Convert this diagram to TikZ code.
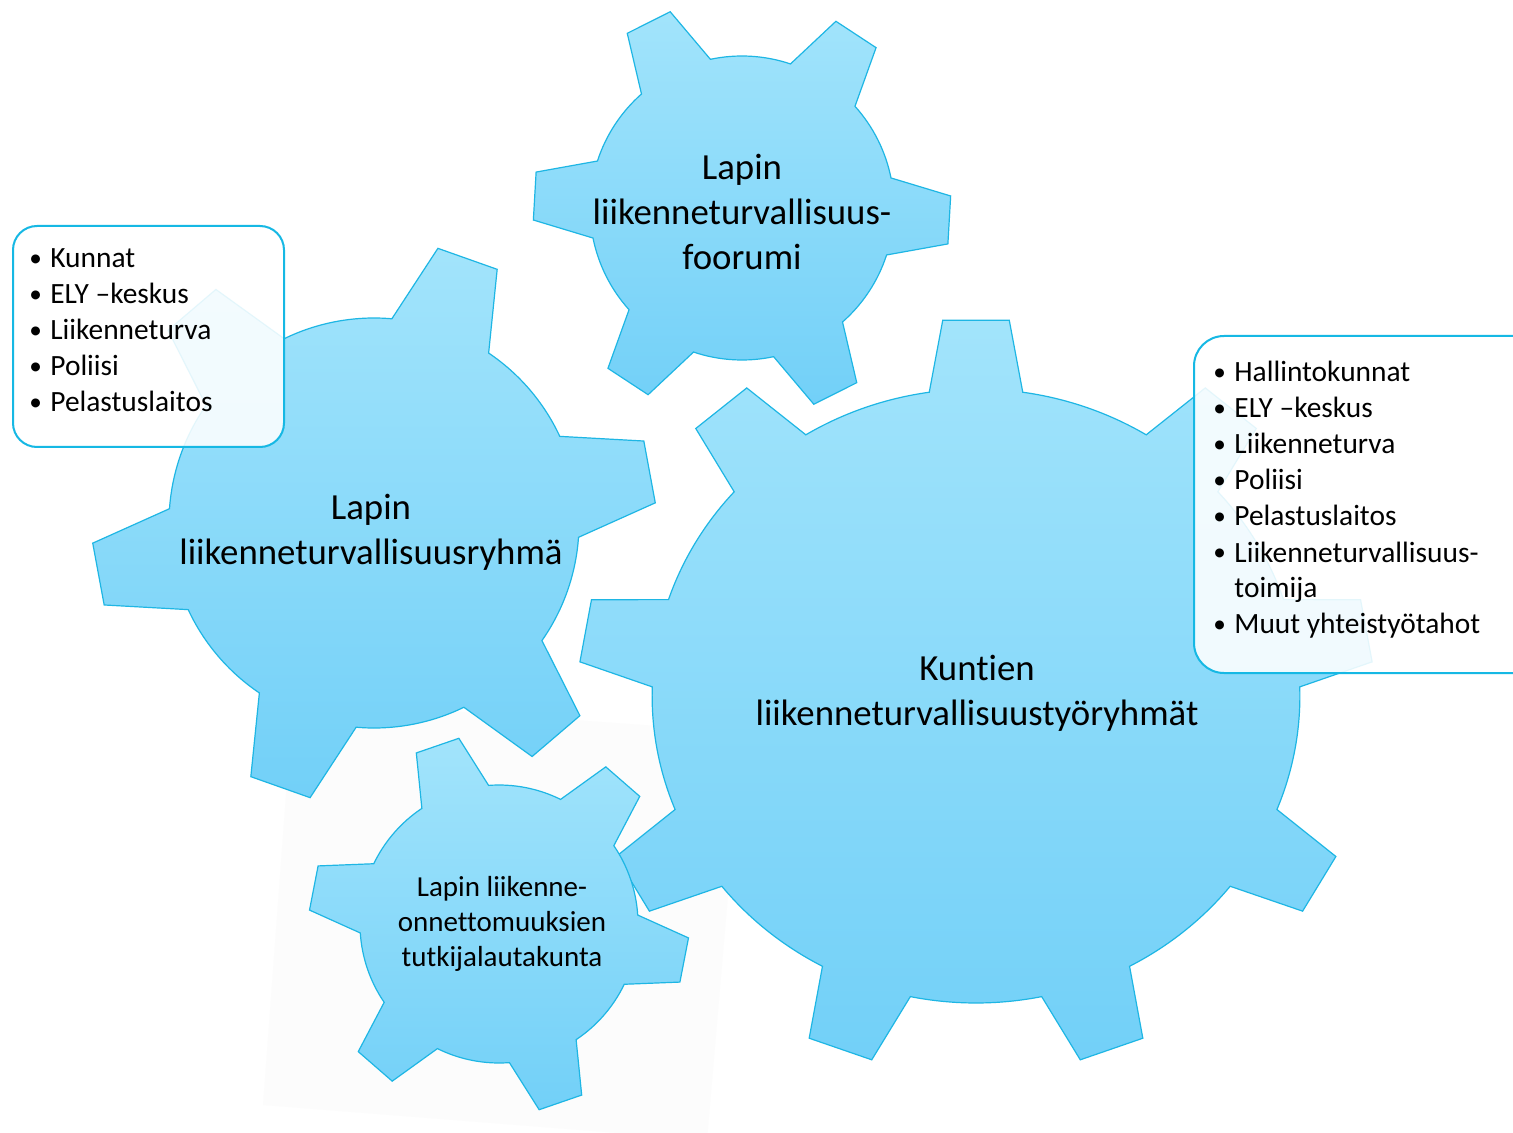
\documentclass[tikz,border=0pt]{standalone}
\usepackage{fontspec}
\setmainfont{Carlito}[Ligatures=NoCommon]
\definecolor{gtop}{RGB}{162,228,251}
\definecolor{gbot}{RGB}{114,208,248}
\definecolor{gline}{RGB}{30,182,228}
\definecolor{bline}{RGB}{22,184,228}
\tikzset{
  gearbody/.style={draw=gline, line width=0.6pt, top color=gtop, bottom color=gbot, line join=miter},
  geartext/.style={align=center, font=\fontsize{18.4}{22.5}\selectfont, inner sep=0pt},
  smalltext/.style={align=center, font=\fontsize{14.5}{17.7}\selectfont, inner sep=0pt},
  listbox/.style={draw=bline, line width=1pt, fill=white, fill opacity=0.88, anchor=north west},
  listtext/.style={font=\fontsize{14.7}{18}\selectfont, inner sep=0pt, anchor=base west},
}
\newcommand\drawgear[9]{%
  \begin{scope}[shift={(#1,#2)},xscale=#3]
    \pgfmathsetmacro\gstep{360/#4}%
    \pgfmathtruncatemacro\glast{#4-1}%
    \path[gearbody] ({#5-#9}:#7)
      \foreach \k [evaluate=\k as \t using #5+\k*\gstep] in {0,...,\glast} {
        -- ({\t-#8}:#6) -- ({\t+#8}:#6) -- ({\t+#9}:#7)
        arc[start angle={\t+#9}, end angle={\t+\gstep-#9}, radius=#7]
      } -- cycle;
  \end{scope}}
\newcommand\bul{\makebox[10.5pt][l]{\raisebox{0.7pt}{\fontsize{12.6}{12}\selectfont •}}}
\begin{document}
\begin{tikzpicture}[x=0.5pt,y=-0.5pt]
  \useasboundingbox (0,0) rectangle (1513,1133);
  \clip (0,0) rectangle (1513,1133);
  \fill[white] (0,0) rectangle (1513,1133);
  % faint frame behind the small gear
  \fill[black!1.3] (293,700) -- (742,732) -- (707,1140) -- (263,1105) -- cycle;
  % gears: cx, cy, xscale, teeth, first tooth angle, R, r, tip half-angle, root half-angle
  \drawgear{742}{208}{1}{6}{3.3}{209}{152}{6.6}{14.7}
  \drawgear{374}{523}{1}{6}{-10.5}{282}{205}{6.4}{14.5}
  \drawgear{976}{696}{1.055}{9}{-90}{377}{307}{4.8}{8.3}
  \drawgear{499}{924}{1}{6}{11}{190}{139}{6.8}{14.7}
  % gear labels
  \node[geartext] (forum) at (742,212) {Lapin\\liikenneturvallisuus-\\foorumi};
  \node[geartext] (ryhma) at (371,532) {Lapin\\liikenneturvallisuusryhmä};
  \node[geartext] (kunnat) at (977,693) {Kuntien\\liikenneturvallisuustyöryhmät};
  \node[smalltext] (tutk) at (502,924) {Lapin liikenne-\\onnettomuuksien\\tutkijalautakunta};
  % list boxes
  \node[listbox, rounded corners=12pt, minimum width=135.5pt, minimum height=110.5pt] (lbox) at (12,225) {};
  \node[listbox, rounded corners=15pt, minimum width=176pt, minimum height=168.5pt] (rbox) at (1193,335) {};
  \node[listtext] (llist) at (29,268) {\begin{tabular}[t]{@{}l@{}l@{}}
    \bul&Kunnat\\
    \bul&ELY –keskus\\
    \bul&Liikenneturva\\
    \bul&Poliisi\\
    \bul&Pelastuslaitos
  \end{tabular}};
  \node[listtext] (rlist) at (1213,382) {\begin{tabular}[t]{@{}l@{}l@{}}
    \bul&Hallintokunnat\\
    \bul&ELY –keskus\\
    \bul&Liikenneturva\\
    \bul&Poliisi\\
    \bul&Pelastuslaitos\\
    \bul&Liikenneturvallisuus-\\
    &toimija\\
    \bul&Muut yhteistyötahot
  \end{tabular}};
\end{tikzpicture}
\end{document}
